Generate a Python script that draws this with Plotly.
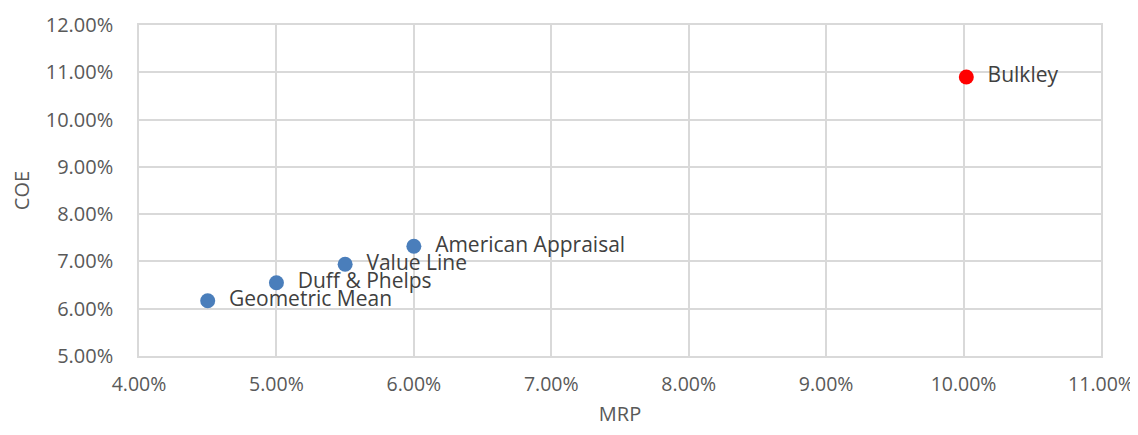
import plotly.graph_objects as go

names = ["Geometric Mean", "Duff & Phelps", "Value Line", "American Appraisal", "Bulkley"]
mrp = [0.045, 0.050, 0.055, 0.060, 0.1002]
coe = [0.0617, 0.0655, 0.0694, 0.0732, 0.1090]
colors = ["#4A7EBB", "#4A7EBB", "#4A7EBB", "#4A7EBB", "#FF0000"]

x_ticks = [0.04, 0.05, 0.06, 0.07, 0.08, 0.09, 0.10, 0.11]
y_ticks = [0.05, 0.06, 0.07, 0.08, 0.09, 0.10, 0.11, 0.12]

fig = go.Figure()
fig.add_trace(go.Scatter(
    x=mrp, y=coe, mode="markers+text",
    text=["  " + n for n in names], textposition="middle right",
    textfont=dict(family="Open Sans", size=21, color="#404040"),
    marker=dict(size=15, color=colors),
    showlegend=False, cliponaxis=False,
))
axis_common = dict(showgrid=True, gridcolor="#D9D9D9", gridwidth=1.5,
                   showline=True, linecolor="#D9D9D9", linewidth=1.5, mirror=True,
                   zeroline=False, tickformat=".2%", ticks="", automargin=False,
                   tickfont=dict(family="Open Sans", size=20, color="#595959"),
                   title_font=dict(family="Open Sans", size=20, color="#595959"))
fig.update_xaxes(range=[0.04, 0.11], tickvals=x_ticks, title_text="MRP", title_standoff=21,
                 ticklabelstandoff=10, ticklabeloverflow="allow",
                 **{**axis_common, "tickfont": dict(family="Open Sans", size=19.5, color="#595959")})
fig.update_yaxes(range=[0.05, 0.12], tickvals=y_ticks, title_text="COE", title_standoff=22,
                 ticklabelstandoff=20, **axis_common)
fig.update_layout(width=1130, height=419, margin=dict(l=131, r=37, t=17, b=71),
                  plot_bgcolor="white", paper_bgcolor="white")
fig.write_html("out.html")
